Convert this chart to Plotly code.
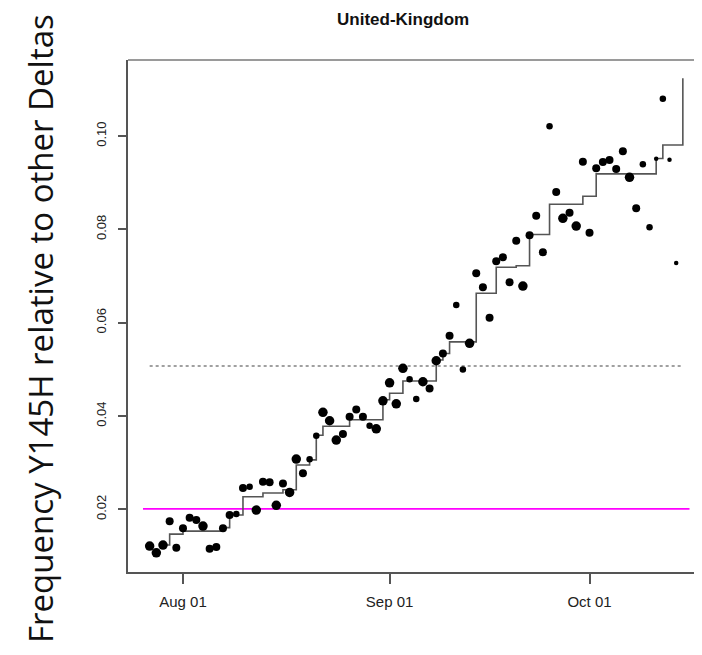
import pandas as pd
import plotly.graph_objects as go

# ---- data ----
dates = pd.date_range("2021-07-27", periods=80, freq="D")
freq = [0.01213, 0.01070, 0.01235, 0.01743, 0.01177, 0.01593, 0.01820, 0.01771, 0.01642, 0.01156,
        0.01192, 0.01593, 0.01878, 0.01899, 0.02456, 0.02484, 0.01985, 0.02592, 0.02579, 0.02086,
        0.02557, 0.02364, 0.03078, 0.02772, 0.03072, 0.03577, 0.04079, 0.03899, 0.03485, 0.03614,
        0.03985, 0.04143, 0.03985, 0.03792, 0.03727, 0.04327, 0.04713, 0.04263, 0.05022, 0.04786,
        0.04364, 0.04735, 0.04593, 0.05185, 0.05343, 0.05721, 0.06378, 0.05000, 0.05558, 0.07058,
        0.06758, 0.06106, 0.07315, 0.07401, 0.06865, 0.07757, 0.06786, 0.07872, 0.08292, 0.07508,
        0.10208, 0.08800, 0.08237, 0.08357, 0.08072, 0.09450, 0.07928, 0.09308, 0.09443, 0.09486,
        0.09293, 0.09672, 0.09115, 0.08451, 0.09394, 0.08044, 0.09514, 0.10800, 0.09492, 0.07279]
# relative sample-size class of each day (1 = few sequences, 4 = many)
weight = [4, 4, 4, 3, 3, 3, 3, 3, 4, 3, 3, 3, 3, 2, 3, 2, 4, 3, 3, 4,
          3, 4, 4, 3, 2, 2, 4, 4, 4, 3, 3, 3, 3, 2, 4, 4, 4, 4, 4, 2,
          2, 4, 3, 4, 3, 3, 2, 2, 4, 3, 3, 3, 3, 3, 3, 3, 4, 3, 3, 3,
          2, 3, 4, 3, 4, 3, 3, 3, 3, 3, 3, 3, 4, 3, 2, 2, 1, 2, 1, 1]

step_dates = pd.date_range("2021-07-29", "2021-10-15", freq="D")
step_vals = [0.01235, 0.0147, 0.0147, 0.01535, 0.01535, 0.01535, 0.01535, 0.01535, 0.01535, 0.0161,
             0.0188, 0.0188, 0.0227, 0.0227, 0.0227, 0.0235, 0.0235, 0.0235, 0.0242, 0.0242,
             0.0295, 0.0295, 0.0306, 0.0359, 0.0378, 0.0378, 0.0378, 0.0378, 0.0392, 0.0392,
             0.0392, 0.0392, 0.0392, 0.0435, 0.0449, 0.0449, 0.0475, 0.0475, 0.0475, 0.0475,
             0.0475, 0.0520, 0.0534, 0.0559, 0.0559, 0.0559, 0.0559, 0.0663, 0.0663, 0.0663,
             0.0719, 0.0719, 0.0719, 0.0722, 0.0722, 0.0789, 0.0789, 0.0789, 0.0854, 0.0854,
             0.0854, 0.0854, 0.0854, 0.0871, 0.0871, 0.0919, 0.0919, 0.0919, 0.0919, 0.0919,
             0.0919, 0.0919, 0.0919, 0.0919, 0.0952, 0.0981, 0.0981, 0.0981, 0.1124]

grey_level = 0.0507
grey_span = ["2021-07-27", "2021-10-15"]
magenta_level = 0.0201
magenta_span = ["2021-07-26", "2021-10-16"]

tick_dates = ["2021-08-01", "2021-09-01", "2021-10-01"]
tick_text = ["Aug 01", "Sep 01", "Oct 01"]
y_ticks = [0.02, 0.04, 0.06, 0.08, 0.10]

title_text = "United-Kingdom"
ylabel_text = "Frequency Y145H relative to other Deltas"

size_map = {1: 4.5, 2: 6.5, 3: 8, 4: 9.5}

# ---- figure (page body has an 8px margin, so the figure is 8px smaller) ----
OFF = 8
W, H = 702 - OFF, 655 - OFF
box_l, box_t, box_b = 128, 60, 572          # plot box in window pixels
L, T = box_l - OFF, box_t - OFF
B = H - (box_b - OFF)
R = 0
pw, ph = W - L - R, H - T - B


def px(xw):
    return (xw - box_l) / pw


def py(yw):
    return (box_b - yw) / ph


fig = go.Figure()
fig.add_trace(go.Scatter(x=grey_span, y=[grey_level, grey_level], mode="lines",
                         line=dict(color="#a0a0a0", width=2, dash="dot"), hoverinfo="skip"))
fig.add_trace(go.Scatter(x=magenta_span, y=[magenta_level, magenta_level], mode="lines",
                         line=dict(color="#ff00ff", width=1.8), hoverinfo="skip"))
fig.add_trace(go.Scatter(x=step_dates, y=step_vals, mode="lines",
                         line=dict(color="#555555", width=1.6, shape="hv")))
fig.add_trace(go.Scatter(x=dates, y=freq, mode="markers",
                         marker=dict(color="#000000", size=[size_map[w] for w in weight],
                                     opacity=1, line=dict(width=0))))

fig.update_layout(
    width=W, height=H, margin=dict(l=L, r=R, t=T, b=B, autoexpand=False),
    paper_bgcolor="white", plot_bgcolor="white", showlegend=False,
    font=dict(family="Liberation Sans, Arial, sans-serif", color="#222222"),
)
fig.update_xaxes(type="date", range=["2021-07-23 18:00", "2021-10-17 21:00"],
                 tickvals=tick_dates, ticktext=tick_text, tickfont=dict(size=15),
                 ticks="outside", ticklen=10, tickwidth=1.5, tickcolor="#555555",
                 ticklabelstandoff=5,
                 showline=True, linecolor="#555555", linewidth=1.5, mirror=False,
                 showgrid=False, zeroline=False)
fig.update_yaxes(range=[0.00658, 0.1163], tickvals=y_ticks, tickformat=".2f",
                 tickangle=-90, tickfont=dict(size=13),
                 ticks="outside", ticklen=8, tickwidth=1.5, tickcolor="#555555",
                 ticklabelstandoff=7,
                 showline=True, linecolor="#555555", linewidth=1.5, mirror=False,
                 showgrid=False, zeroline=False)

# top border of the box
fig.add_shape(type="line", xref="paper", yref="paper", x0=0, x1=1, y0=1, y1=1,
              line=dict(color="#9a9a9a", width=2))

# title
fig.add_annotation(text="<b>" + title_text + "</b>", xref="paper", yref="paper",
                   x=px(403), y=py(19), xanchor="center", yanchor="middle",
                   showarrow=False, font=dict(size=17, color="#111111"))
# y-axis label
fig.add_annotation(text=ylabel_text, xref="paper", yref="paper", textangle=-90,
                   x=px(40), y=py(329), xanchor="center", yanchor="middle",
                   showarrow=False, font=dict(family="Open Sans, sans-serif", size=33, color="#111111"))

fig.write_html("out.html")
